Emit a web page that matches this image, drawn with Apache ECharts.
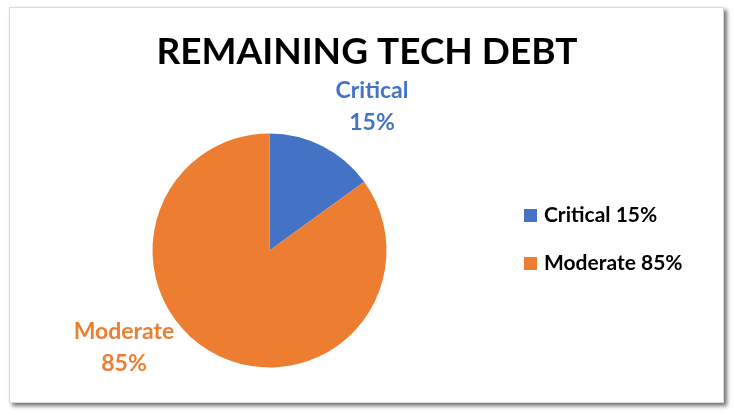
<!DOCTYPE html>
<html>
<head>
<meta charset="utf-8">
<script src="https://cdn.jsdelivr.net/npm/echarts@6/dist/echarts.min.js"></script>
<style>
  html, body { margin: 0; padding: 0; background: #ffffff; }
  #frame {
    position: absolute; left: 9px; top: 7px; width: 713px; height: 394px;
    border: 1px solid #d9d9d9; background: #ffffff;
    box-shadow: 3px 3px 4px rgba(0,0,0,0.55);
  }
  #chart { position: absolute; left: 0; top: 0; width: 734px; height: 415px; }
</style>
</head>
<body>
<div id="frame"></div>
<div id="chart"></div>
<script>
// Share of remaining tech debt by severity
const categories = ['Critical', 'Moderate'];
const shares = [15, 85];
const colors = ['#4472C4', '#ED7D31'];

// Where each slice's data label sits (label anchor points)
const labelSpots = {
  Critical: [372, 107],
  Moderate: [124, 348]
};

const FONT = 'Lato, "Open Sans", sans-serif';

const chart = echarts.init(document.getElementById('chart'), null, { renderer: 'canvas' });

chart.setOption({
  backgroundColor: 'transparent',
  animation: false,
  title: {
    text: 'REMAINING TECH DEBT',
    left: 'center',
    top: 29,
    textStyle: { fontFamily: FONT, fontWeight: 'bold', fontSize: 37, color: '#000000' }
  },
  legend: {
    orient: 'vertical',
    left: 519,
    top: 200,
    itemWidth: 13,
    itemHeight: 13,
    itemGap: 27,
    icon: 'rect',
    data: categories,
    formatter: function (name) {
      return name + ' ' + shares[categories.indexOf(name)] + '%';
    },
    textStyle: { fontFamily: FONT, fontWeight: 'bold', fontSize: 21, color: '#000000', padding: [0, 0, 0, 2] }
  },
  series: [{
    type: 'pie',
    center: [269.5, 250.5],
    radius: 117,
    startAngle: 90,
    clockwise: true,
    data: categories.map((c, i) => ({ name: c, value: shares[i], itemStyle: { color: colors[i] } })),
    label: {
      show: true,
      position: 'outside',
      formatter: '{b}\n{c}%',
      fontFamily: FONT,
      fontWeight: 'bold',
      fontSize: 23,
      lineHeight: 32,
      align: 'center',
      color: 'inherit'
    },
    labelLine: { show: false },
    labelLayout: function (params) {
      const name = categories[params.dataIndex];
      const p = labelSpots[name];
      return { x: p[0], y: p[1], align: 'center', verticalAlign: 'middle', hideOverlap: false };
    },
    emphasis: { disabled: true }
  }]
});
</script>
</body>
</html>
